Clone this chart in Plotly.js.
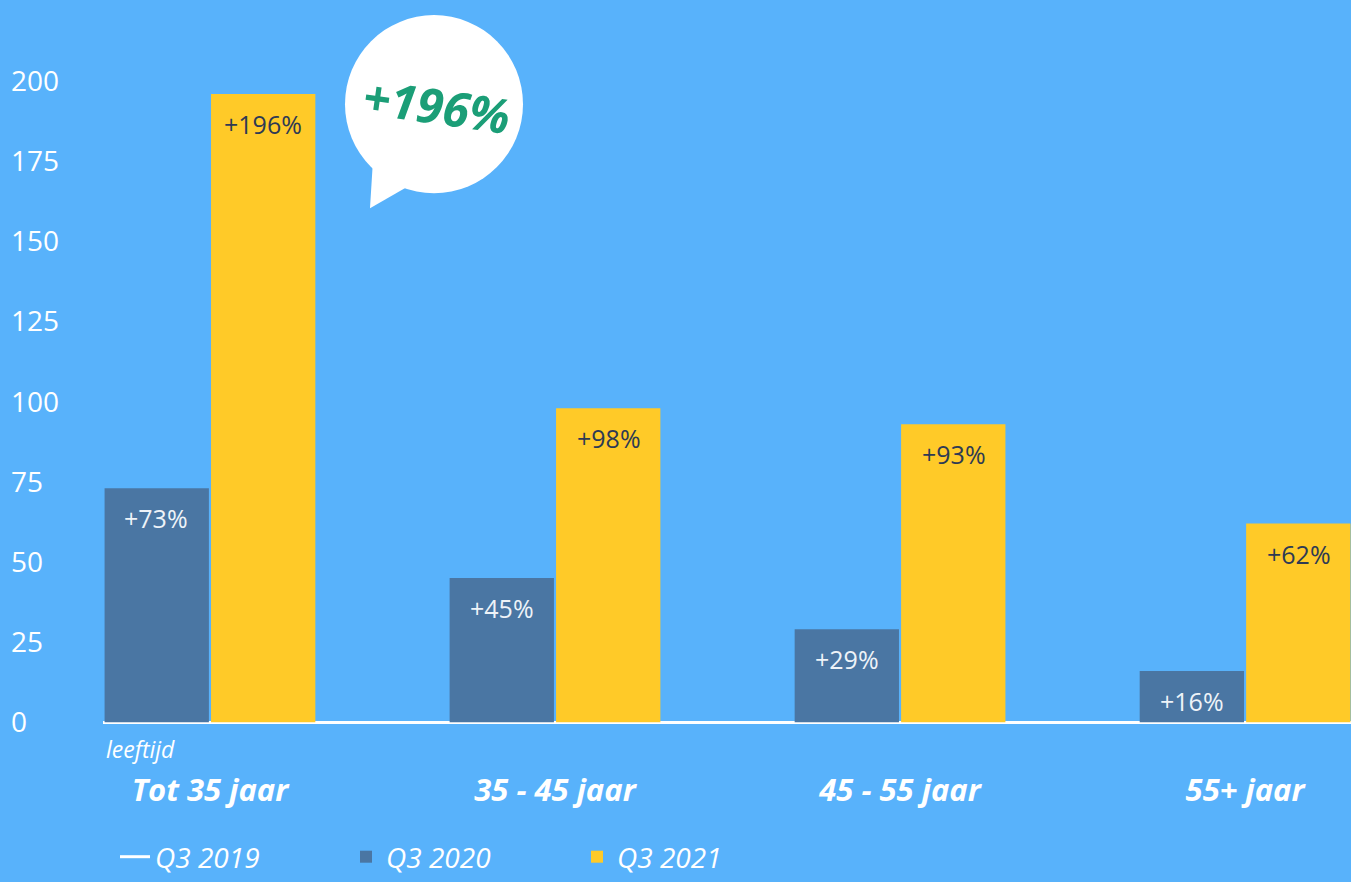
<!DOCTYPE html>
<html>
<head>
<meta charset="utf-8">
<script src="https://cdn.plot.ly/plotly-3.0.1.min.js"></script>
<style>
  html, body { margin: 0; padding: 0; background: #58b2fb; }
  #chart { width: 1351px; height: 882px; }
</style>
</head>
<body>
<div id="chart"></div>
<script>
// ---- data ----
var categories = ['Tot 35 jaar', '35 - 45 jaar', '45 - 55 jaar', '55+ jaar'];
var q3_2020 = [73, 45, 29, 16];
var q3_2021 = [196, 98, 93, 62];
var seriesNames = ['Q3 2019', 'Q3 2020', 'Q3 2021'];
var yTicks = [0, 25, 50, 75, 100, 125, 150, 175, 200];
var highlight = '+196%';
var axisCaption = 'leeftijd';

// ---- style ----
var BG = '#58b2fb';
var DARK = '#4a76a3';
var YELLOW = '#ffca28';
var GREEN = '#1b9e77';
var NAVY = '#2e3a54';
var FONT = '"Open Sans", "Noto Sans", sans-serif';

var W = 1351, H = 882;
var yMin = -8, yMax = 220;
var pxPerUnit = 641 / 200;            // 0 -> 722px, 200 -> 81px
var zeroPx = 722;
var plotTop = zeroPx - yMax * pxPerUnit;
var plotBottom = zeroPx - yMin * pxPerUnit;
var plotH = plotBottom - plotTop;
function px(x) { return x / W; }
function py(y) { return (plotBottom - y) / plotH; }

var traces = [
  {
    type: 'scatter', mode: 'lines', name: seriesNames[0],
    x: [null], y: [null],
    line: { color: '#ffffff', width: 3 },
    hoverinfo: 'skip'
  },
  {
    type: 'bar', name: seriesNames[1],
    x: categories, y: q3_2020,
    marker: { color: DARK },
    hoverinfo: 'x+y'
  },
  {
    type: 'bar', name: seriesNames[2],
    x: categories, y: q3_2021,
    marker: { color: YELLOW },
    hoverinfo: 'x+y'
  }
];

var annotations = [];
var halfOffset = 53.5;
categories.forEach(function (c, i) {
  annotations.push({
    x: c, y: q3_2020[i], xref: 'x', yref: 'y',
    text: '+' + q3_2020[i] + '%', showarrow: false,
    xshift: -halfOffset, yshift: -30, yanchor: 'middle',
    font: { family: FONT, size: 25, color: '#eef3f8' }
  });
  annotations.push({
    x: c, y: q3_2021[i], xref: 'x', yref: 'y',
    text: '+' + q3_2021[i] + '%', showarrow: false,
    xshift: halfOffset, yshift: -30, yanchor: 'middle',
    font: { family: FONT, size: 25, color: NAVY }
  });
});

annotations.push({
  xref: 'paper', yref: 'paper', x: px(437), y: py(105),
  text: '<b><i>' + highlight + '</i></b>', showarrow: false,
  textangle: 8, xanchor: 'center', yanchor: 'middle',
  font: { family: FONT, size: 48, color: GREEN }
});
annotations.push({
  xref: 'paper', yref: 'paper', x: px(104), y: py(749),
  text: '<i>' + axisCaption + '</i>', showarrow: false,
  xanchor: 'left', yanchor: 'middle',
  font: { family: FONT, size: 23, color: '#ffffff' }
});

var shapes = [
  {
    type: 'circle', xref: 'paper', yref: 'paper', layer: 'above',
    x0: px(345), x1: px(523), y0: py(193), y1: py(15),
    fillcolor: '#ffffff', line: { width: 0 }
  },
  {
    type: 'path', xref: 'paper', yref: 'paper', layer: 'above',
    path: 'M ' + px(373) + ',' + py(160) + ' L ' + px(370) + ',' + py(208) +
          ' L ' + px(410) + ',' + py(185) + ' Z',
    fillcolor: '#ffffff', line: { width: 0 }
  }
];

var layout = {
  width: W, height: H,
  paper_bgcolor: BG, plot_bgcolor: BG,
  margin: { l: 0, r: 0, t: plotTop, b: H - plotBottom, pad: 0, autoexpand: false },
  barmode: 'group',
  bargap: 0.383,
  bargroupgap: 0.02,
  showlegend: true,
  font: { family: FONT, color: '#ffffff' },
  xaxis: {
    domain: [px(103), 1],
    type: 'category',
    range: [-0.31, 3.307],
    showgrid: false, zeroline: false, showline: false,
    ticks: 'outside', ticklen: 15, tickcolor: 'rgba(0,0,0,0)',
    tickfont: { family: FONT, size: 31, color: '#ffffff', weight: 'bold', style: 'italic' },
    fixedrange: true
  },
  yaxis: {
    range: [yMin, yMax],
    anchor: 'free', position: 0,
    tickvals: yTicks,
    ticktext: yTicks.map(String),
    ticks: '',
    ticklabelposition: 'inside',
    ticklabelstandoff: 7,
    showgrid: false, showline: false,
    zeroline: true, zerolinecolor: '#ffffff', zerolinewidth: 3,
    tickfont: { family: FONT, size: 28, color: '#ffffff' },
    fixedrange: true
  },
  legend: {
    orientation: 'h',
    xref: 'container', yref: 'container',
    x: 115 / W, xanchor: 'left',
    y: 0, yanchor: 'bottom',
    font: { family: FONT, size: 28, color: '#ffffff', style: 'italic' },
    bgcolor: 'rgba(0,0,0,0)',
    entrywidth: 186,
    traceorder: 'normal'
  },
  annotations: annotations,
  shapes: shapes
};

Plotly.newPlot('chart', traces, layout, { displayModeBar: false, responsive: false });
</script>
</body>
</html>
